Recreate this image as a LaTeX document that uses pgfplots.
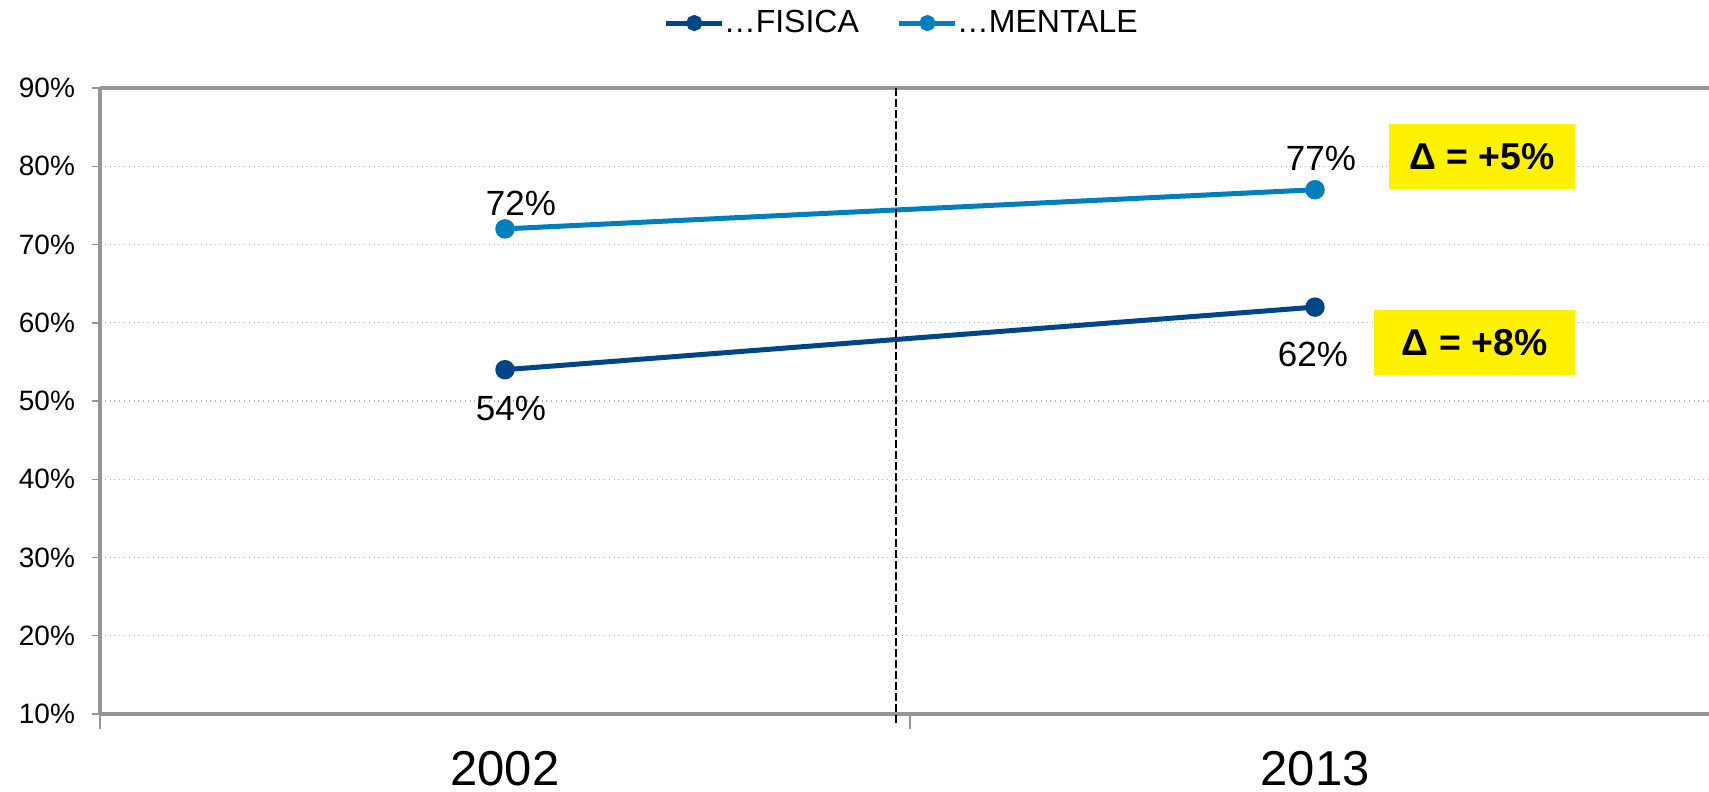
\documentclass[border=0pt]{standalone}
\usepackage{fontspec}
\setmainfont{Liberation Sans}
\usepackage{pgfplots}
\pgfplotsset{compat=1.18}

\definecolor{fisica}{RGB}{0,69,134}
\definecolor{mentale}{RGB}{0,126,189}
\definecolor{axisgray}{RGB}{150,150,150}
\definecolor{gridgray}{RGB}{175,175,175}

\newcommand{\fs}[1]{\fontsize{#1}{#1}\selectfont}

\begin{document}
\begin{tikzpicture}
\begin{axis}[
  at={(0,0)}, anchor=south west,
  scale only axis, width=804.5pt, height=313pt,
  xmin=0, xmax=1.9864, ymin=10, ymax=90,
  clip=false,
  axis x line*=bottom, axis y line*=left,
  axis line style={axisgray, line width=2.25pt, -},
  tick align=outside,
  /pgf/number format/assume math mode=true,
  xtick={0.5,1.5}, xticklabels={2002,2013},
  xtick style={draw=none},
  xticklabel style={font=\fs{24.5}, inner sep=0pt, anchor=north, yshift=-14.5pt},
  ytick={10,20,...,90},
  yticklabel={\pgfmathprintnumber{\tick}\%},
  yticklabel style={font=\fs{14}, xshift=-5pt},
  ytick style={draw=axisgray, line width=0.75pt},
  major tick length=4pt,
  ymajorgrids,
  major grid style={gridgray, dotted, line width=0.6pt},
  legend style={at={(0.4989,1.1038)}, anchor=center, draw=none, fill=none,
    legend columns=-1, font=\fs{16},
    /tikz/every odd column/.append style={column sep=-2.5pt},
    /tikz/every even column/.append style={column sep=17pt}},
  legend image code/.code={\draw[line width=2.5pt, mark size=2.75pt, mark repeat=2, mark phase=2] plot coordinates {(0pt,0pt) (14pt,0pt) (28pt,0pt)};},
]
% physical and mental series
\addplot[fisica, line width=2.5pt, mark=*, mark size=3.6pt] coordinates {(0.5,54) (1.5,62)};
\addlegendentry{…FISICA}
\addplot[mentale, line width=2.5pt, mark=*, mark size=3.6pt] coordinates {(0.5,72) (1.5,77)};
\addlegendentry{…MENTALE}

% top frame line
\draw[axisgray, line width=2.25pt] (axis cs:0,90) -- (axis cs:1.9864,90);
% tick marks below the category boundaries
\draw[axisgray, line width=0.75pt] (axis cs:0,10) -- ([yshift=-7.5pt]axis cs:0,10);
\draw[axisgray, line width=0.75pt] (axis cs:1,10) -- ([yshift=-7.5pt]axis cs:1,10);
% separator between the two years
\draw[black, line width=1pt, dash pattern=on 4pt off 1.5pt] (axis cs:0.983,90) -- ([yshift=-5pt]axis cs:0.983,10);

% value labels
\node[font=\fs{17.5}] at ([xshift=8pt,yshift=12.75pt]axis cs:0.5,72) {72\%};
\node[font=\fs{17.5}] at ([xshift=3pt,yshift=-19.5pt]axis cs:0.5,54) {54\%};
\node[font=\fs{17.5}] at ([xshift=3pt,yshift=15.5pt]axis cs:1.5,77) {77\%};
\node[font=\fs{17.5}] at ([xshift=-1pt,yshift=-23.7pt]axis cs:1.5,62) {62\%};

% change boxes
\node[fill=yellow, minimum width=93pt, minimum height=32.5pt, inner sep=0pt, font=\bfseries\fs{18.7}] at (axis cs:1.706,81.25) {Δ = +5\%};
\node[fill=yellow, minimum width=100.5pt, minimum height=32.5pt, inner sep=0pt, font=\bfseries\fs{18.7}] at (axis cs:1.697,57.48) {Δ = +8\%};
\end{axis}
\pgfresetboundingbox
\useasboundingbox (-50pt,-39pt) rectangle (804.5pt,357pt);
\end{tikzpicture}
\end{document}
